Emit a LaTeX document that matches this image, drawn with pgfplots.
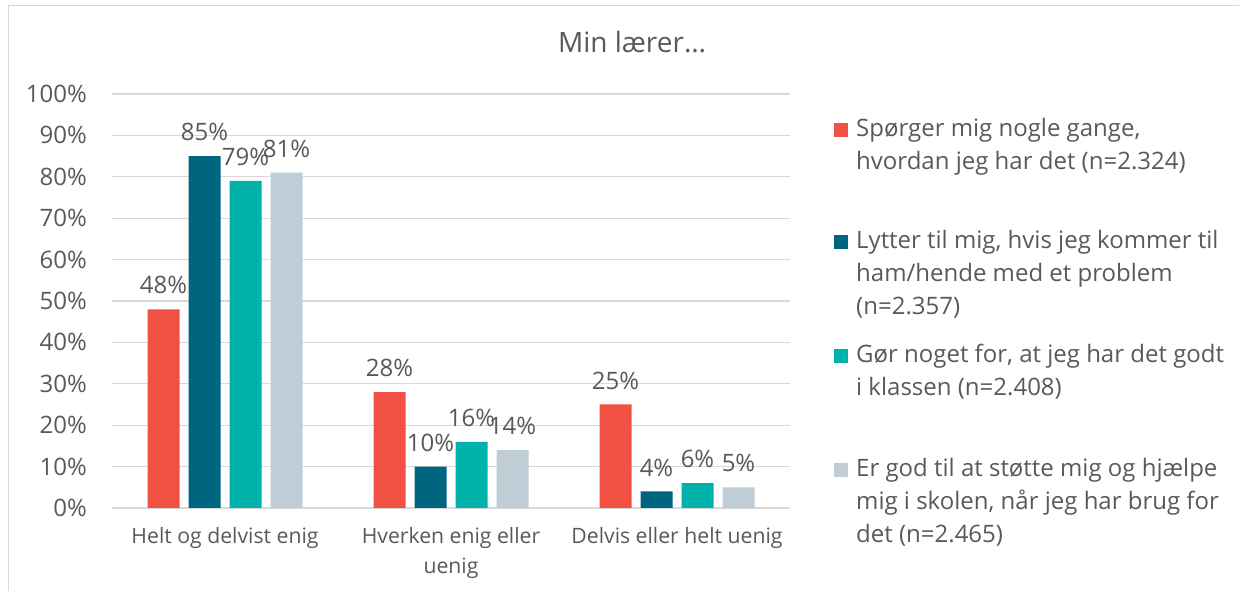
\documentclass[border=0pt]{standalone}
\usepackage{pgfplots}
\pgfplotsset{compat=1.18}
\usepackage{fontspec}
\setmainfont{Open Sans}
\definecolor{cRed}{HTML}{F05143}
\definecolor{cDark}{HTML}{006680}
\definecolor{cTeal}{HTML}{00B2A9}
\definecolor{cLight}{HTML}{BFCDD6}
\definecolor{txt}{HTML}{595959}
\definecolor{gridc}{HTML}{D9D9D9}
\newcommand{\fs}{\fontsize{24}{32}\selectfont}
\newcommand{\fx}{\fontsize{21.2}{30}\selectfont}
\begin{document}
\begin{tikzpicture}
\useasboundingbox (0pt,0pt) rectangle (1239pt,591pt);
\draw[gridc, line width=1.5pt] (8.5pt,0pt) -- (8.5pt,585.5pt) -- (1239pt,585.5pt);
\begin{axis}[
  at={(112pt,83pt)}, anchor=south west,
  scale only axis, width=678pt, height=414pt,
  xmin=-0.5, xmax=2.5, ymin=0, ymax=100,
  ybar=9pt, bar width=32pt,
  axis line style={draw=none},
  major tick length=0pt,
  ytick={0,10,...,100},
  ymajorgrids, grid style={gridc, line width=1.3pt},
  /pgf/number format/assume math mode=true,
  yticklabel={\pgfmathprintnumber{\tick}\%},
  yticklabel style={font=\fs, color=txt, inner sep=0pt, anchor=east, xshift=-25pt},
  xtick={0,1,2},
  xticklabels={{Helt og delvist enig},{Hverken enig eller\\uenig},{Delvis eller helt uenig}},
  xticklabel style={font=\fx, color=txt, inner sep=0pt, anchor=north, align=center, yshift=-19pt},
  nodes near coords={\pgfmathprintnumber{\pgfplotspointmeta}\%},
  every node near coord/.append style={font=\fs, color=txt, inner sep=0pt, anchor=south, yshift=15pt},
  clip=false,
]
\addplot[fill=cRed, draw=none] coordinates {(0,48) (1,28) (2,25)};
\addplot[fill=cDark, draw=none] coordinates {(0,85) (1,10) (2,4)};
\addplot[fill=cTeal, draw=none] coordinates {(0,79) (1,16) (2,6)};
\addplot[fill=cLight, draw=none] coordinates {(0,81) (1,14) (2,5)};
\end{axis}
\node[anchor=base, font=\fontsize{28}{34}\selectfont, color=txt, inner sep=0pt] at (632pt,538pt) {Min lærer…};
% legend
\begin{scope}[every node/.style={anchor=base west, inner sep=0pt, font=\fs, color=txt}]
\fill[cRed] (834pt,454pt) rectangle ++(14pt,14pt);
\node at (856pt,454pt) {Spørger mig nogle gange,};
\node at (856pt,421pt) {hvordan jeg har det (n=2.324)};
\fill[cDark] (834pt,342pt) rectangle ++(14pt,14pt);
\node at (856pt,342pt) {Lytter til mig, hvis jeg kommer til};
\node at (856pt,309pt) {ham/hende med et problem};
\node at (856pt,276pt) {(n=2.357)};
\fill[cTeal] (834pt,228pt) rectangle ++(14pt,14pt);
\node at (856pt,228pt) {Gør noget for, at jeg har det godt};
\node at (856pt,195pt) {i klassen (n=2.408)};
\fill[cLight] (834pt,114pt) rectangle ++(14pt,14pt);
\node at (856pt,114pt) {Er god til at støtte mig og hjælpe};
\node at (856pt,81pt) {mig i skolen, når jeg har brug for};
\node at (856pt,48pt) {det (n=2.465)};
\end{scope}
\end{tikzpicture}
\end{document}
